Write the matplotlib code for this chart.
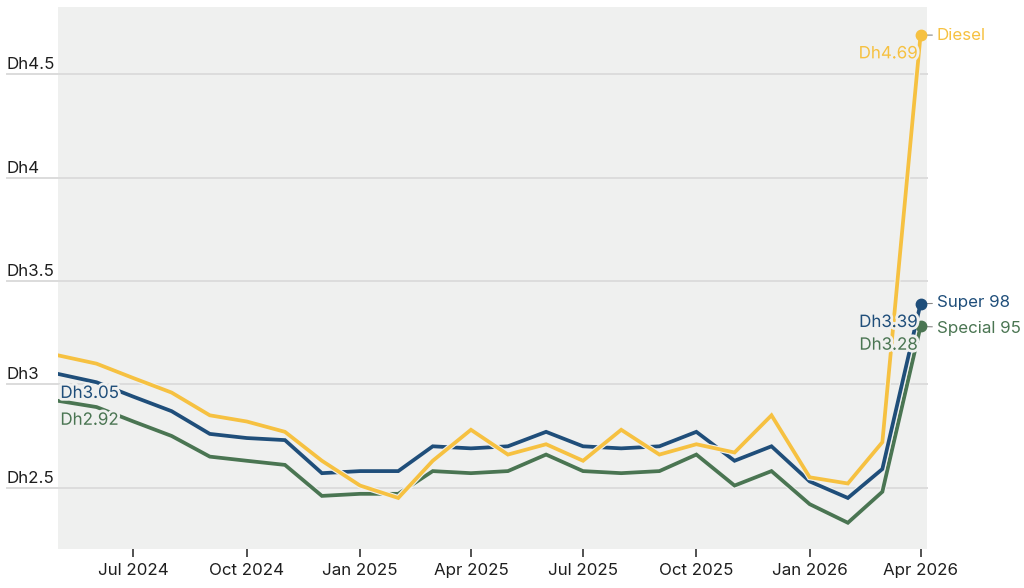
import pandas as pd
import matplotlib
matplotlib.use("Agg")
import matplotlib.pyplot as plt
import matplotlib.dates as mdates
import matplotlib.patheffects as pe
import matplotlib.transforms as mtransforms

plt.rcParams["font.family"] = ["Inter", "DejaVu Sans"]

# monthly fuel prices (Dh per litre), May 2024 - Apr 2026
months = pd.date_range("2024-05-01", "2026-04-01", freq="MS")
super98 = [3.05, 3.01, 2.94, 2.87, 2.76, 2.74, 2.73, 2.57, 2.58, 2.58, 2.70, 2.69,
           2.70, 2.77, 2.70, 2.69, 2.70, 2.77, 2.63, 2.70, 2.53, 2.45, 2.59, 3.39]
special95 = [2.92, 2.89, 2.82, 2.75, 2.65, 2.63, 2.61, 2.46, 2.47, 2.47, 2.58, 2.57,
             2.58, 2.66, 2.58, 2.57, 2.58, 2.66, 2.51, 2.58, 2.42, 2.33, 2.48, 3.28]
diesel = [3.14, 3.10, 3.03, 2.96, 2.85, 2.82, 2.77, 2.63, 2.51, 2.45, 2.63, 2.78,
          2.66, 2.71, 2.63, 2.78, 2.66, 2.71, 2.67, 2.85, 2.55, 2.52, 2.72, 4.69]

series = [("Special 95", special95, "#4a7552"),
          ("Super 98", super98, "#1f4e7a"),
          ("Diesel", diesel, "#f6c141")]
name_dy = {"Special 95": -1.2, "Super 98": 0.8, "Diesel": 0}

y_ticks = [2.5, 3, 3.5, 4, 4.5]
y_labels = ["Dh2.5", "Dh3", "Dh3.5", "Dh4", "Dh4.5"]

BG = "#eff0ef"
W, H = 1024, 588

fig = plt.figure(figsize=(W / 100, H / 100), dpi=100)
ax = fig.add_axes([58.3 / W, 39 / H, (926.7 - 58.3) / W, (549 - 7) / H])
ax.set_facecolor(BG)
for s in ax.spines.values():
    s.set_visible(False)

ax.set_xlim(pd.Timestamp("2024-05-01"), pd.Timestamp("2026-04-06"))
ax.set_ylim(2.203, 4.826)

# gridlines reaching out under the y labels
left_frac = -(58.3 - 7) / (926.7 - 58.3)
trans = mtransforms.blended_transform_factory(ax.transAxes, ax.transData)
for v, lab in zip(y_ticks, y_labels):
    ax.axhline(v, xmin=left_frac, xmax=1, color="#dcdcdc", lw=1.4,
               clip_on=False, zorder=1)
    ax.text(left_frac, v + 0.024, lab, transform=trans, ha="left", va="baseline",
            fontsize=12.2, color="#1e1e1e")
ax.set_yticks([])

ax.xaxis.set_major_locator(mdates.MonthLocator(bymonth=[1, 4, 7, 10]))
ax.xaxis.set_major_formatter(mdates.DateFormatter("%b %Y"))
ax.tick_params(axis="x", length=6, width=1.1, color="#222222", pad=4,
               labelsize=12.2, labelcolor="#1e1e1e")

halo = [pe.withStroke(linewidth=4, foreground=BG)]

for i, (name, vals, col) in enumerate(series):
    ax.plot(months, vals, color=col, lw=2.7, zorder=3 + i, solid_joinstyle="miter",
            path_effects=[pe.Stroke(linewidth=4.3, foreground=BG), pe.Normal()])
    ax.plot(months[-1], vals[-1], "o", color=col, ms=7.5, zorder=10, clip_on=False)
    # end value label
    ax.annotate(f"Dh{vals[-1]:.2f}", xy=(months[-1], vals[-1]), xytext=(-2, -13.5),
                textcoords="offset points", ha="right", va="center", fontsize=12.2,
                color=col, zorder=11, path_effects=halo)
    # series name with short leader
    ax.annotate(name, xy=(months[-1], vals[-1]), xytext=(11.5, name_dy[name]),
                textcoords="offset points", ha="left", va="center", fontsize=12.2,
                color=col, annotation_clip=False,
                arrowprops=dict(arrowstyle="-", color="#888888", lw=0.8,
                                shrinkA=1, shrinkB=4.5))

# start value labels
for vals, col in [(super98, "#1f4e7a"), (special95, "#4a7552")]:
    ax.annotate(f"Dh{vals[0]:.2f}", xy=(months[0], vals[0]), xytext=(1.5, -14),
                textcoords="offset points", ha="left", va="center", fontsize=12.2,
                color=col, zorder=11, path_effects=halo)

fig.savefig("out.png", dpi=100, facecolor="white")
